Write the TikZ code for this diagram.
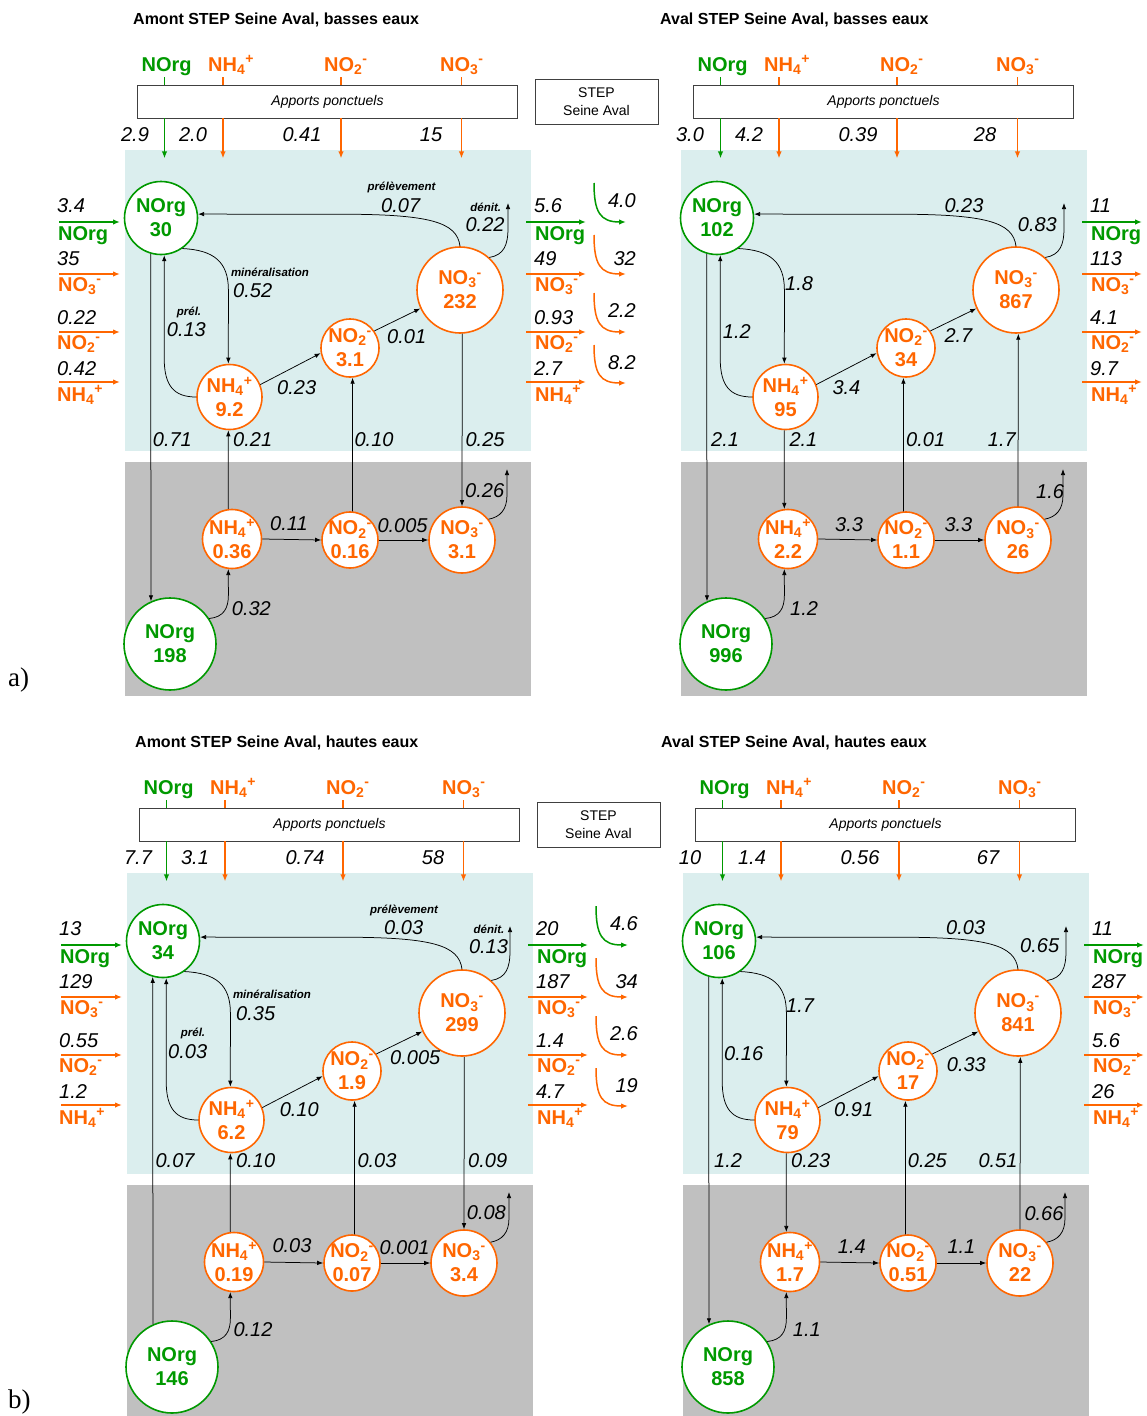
\documentclass[tikz,border=0pt]{standalone}
\usepackage{fontspec}
\setmainfont{Liberation Sans}
\newfontfamily\abcfont{Liberation Serif}
\usetikzlibrary{arrows.meta,calc}
\definecolor{vgreen}{RGB}{0,153,0}
\definecolor{vorange}{RGB}{255,102,0}
\definecolor{water}{RGB}{219,238,238}
\definecolor{sed}{RGB}{192,192,192}
\newcommand\chem[2]{\textsubscript{#1}\textsuperscript{#2}}
\newcommand\spNH{NH\chem{4}{+}}
\newcommand\spNOii{NO\chem{2}{-}}
\newcommand\spNOiii{NO\chem{3}{-}}
\newcounter{nn}
\tikzset{
  num/.style={font=\fontsize{20}{22}\selectfont\itshape, inner sep=0pt, anchor=base west},
  numc/.style={font=\fontsize{20}{22}\selectfont\itshape, inner sep=0pt, anchor=base},
  nume/.style={font=\fontsize{20}{22}\selectfont\itshape, inner sep=0pt, anchor=base east},
  lbl/.style={font=\fontsize{11.5}{13}\selectfont\bfseries\itshape, inner sep=0pt, anchor=base},
  gsp/.style={font=\fontsize{20}{22}\selectfont\bfseries, text=vgreen, inner sep=0pt, anchor=base west},
  osp/.style={font=\fontsize{20}{22}\selectfont\bfseries, text=vorange, inner sep=0pt, anchor=base west},
  poolc/.style={circle, line width=1.6pt, fill=white, inner sep=0pt},
  pooltxt/.style={font=\fontsize{20}{24}\selectfont\bfseries, align=center, inner sep=0pt},
  flow/.style={draw=black, line width=0.75pt, -{Latex[length=6pt,width=4.5pt]}},
  gflow/.style={draw=vgreen, line width=1.5pt, -{Latex[length=7pt,width=5.5pt]}},
  oflow/.style={draw=vorange, line width=1.5pt, -{Latex[length=7pt,width=5.5pt]}},
  gline/.style={draw=vgreen, line width=1.5pt},
  oline/.style={draw=vorange, line width=1.5pt},
  appbox/.style={draw=black!75, line width=0.8pt, fill=white, minimum width=380pt, minimum height=33pt, inner sep=0pt, font=\fontsize{14}{16}\selectfont\itshape},
  stepbox/.style={draw=black!75, line width=0.8pt, fill=white, minimum width=123pt, minimum height=45pt, inner sep=0pt, align=center, font=\fontsize{14}{17.5}\selectfont},
  ptitle/.style={font=\fontsize{16}{18}\selectfont\bfseries, inner sep=0pt, anchor=base west},
}
\newcommand\nmW[3]{\stepcounter{nn}\edef\nmname{n\arabic{nn}}\node[num] (\nmname) at (#1,#2) {#3};}
\newcommand\nmC[3]{\stepcounter{nn}\edef\nmname{n\arabic{nn}}\node[numc] (\nmname) at (#1,#2) {#3};}
\newcommand\nmE[3]{\stepcounter{nn}\edef\nmname{n\arabic{nn}}\node[nume] (\nmname) at (#1,#2) {#3};}
\newcommand\lbC[3]{\stepcounter{nn}\edef\nmname{n\arabic{nn}}\node[lbl] (\nmname) at (#1,#2) {#3};}
\newcommand\pool[5]{%
  \node[poolc, draw=#4, minimum size=#3] (#1) at #2 {};
  \node[pooltxt, text=#4] (#1t) at (#1.center) {#5};}
\newcommand\pools[9]{%
  \pool{#1wnorg}{(161,218)}{73pt}{vgreen}{NOrg\\#2}%
  \pool{#1wnh4}{(229.5,397)}{65pt}{vorange}{\spNH\\#3}%
  \pool{#1wno2}{(350,348)}{58pt}{vorange}{\spNOii\\#4}%
  \pool{#1wno3}{(460,290)}{86pt}{vorange}{\spNOiii\\#5}%
  \pool{#1snh4}{(232,539)}{59pt}{vorange}{\spNH\\#6}%
  \pool{#1sno2}{(350,540)}{56pt}{vorange}{\spNOii\\#7}%
  \pool{#1sno3}{(462,540)}{66pt}{vorange}{\spNOiii\\#8}%
  \pool{#1snorg}{(170,644)}{92pt}{vgreen}{NOrg\\#9}%
}
\newcommand\panelbase[1]{%
  \fill[water] (125,150) rectangle (531,451);
  \fill[sed] (125,462) rectangle (531,696);
  \node[appbox] (#1app) at (327.5,101.5) {Apports ponctuels};
  \node[gsp] (#1tA) at (141.5,71.5) {NOrg};
  \node[osp] (#1tB) at (208,71.5) {\spNH};
  \node[osp] (#1tC) at (324,71.5) {\spNOii};
  \node[osp] (#1tD) at (440,71.5) {\spNOiii};
  \coordinate (#1xA) at (164.5,0);
  \coordinate (#1xB) at (223,0);
  \coordinate (#1xC) at (341,0);
  \coordinate (#1xD) at (461.5,0);
  \draw[gline] (#1app.north -| #1xA) -- ++(0,-8);
  \draw[oline] (#1app.north -| #1xB) -- ++(0,-8);
  \draw[oline] (#1app.north -| #1xC) -- ++(0,-8);
  \draw[oline] (#1app.north -| #1xD) -- ++(0,-8);
  \draw[gflow] (#1app.south -| #1xA) -- ++(0,40);
  \draw[oflow] (#1app.south -| #1xB) -- ++(0,40);
  \draw[oflow] (#1app.south -| #1xC) -- ++(0,40);
  \draw[oflow] (#1app.south -| #1xD) -- ++(0,40);
  \draw[gflow] (526,222) -- (586,222);
  \draw[oflow] (526,274) -- (586,274);
  \draw[oflow] (526,332) -- (586,332);
  \draw[oflow] (526,382) -- (586,382);
  \node[gsp] (#1oA) at (535,240) {NOrg};
  \node[osp] (#1oB) at (535,291) {\spNOiii};
  \node[osp] (#1oC) at (535,349.5) {\spNOii};
  \node[osp] (#1oD) at (535,401) {\spNH};
}
\newcommand\outnums[4]{\nmW{534}{212}{#1}\nmW{534}{265}{#2}\nmW{534}{324}{#3}\nmW{534}{375.5}{#4}}
\newcommand\topnums[8]{\nmC{#1}{141.5}{#2}\nmC{#3}{141.5}{#4}\nmC{#5}{141.5}{#6}\nmC{#7}{141.5}{#8}}
\newcommand\leftinputs[5]{%
  \draw[gflow] (59,222) -- (120,222);
  \draw[oflow] (59,274) -- (120,274);
  \draw[oflow] (59,332) -- (120,332);
  \draw[oflow] (59,382) -- (120,382);
  \node[gsp] (#1iA) at (58,240) {NOrg};
  \node[osp] (#1iB) at (58,291) {\spNOiii};
  \node[osp] (#1iC) at (57,349.5) {\spNOii};
  \node[osp] (#1iD) at (57,401) {\spNH};
  \nmW{57}{212}{#2}\nmW{57}{265}{#3}\nmW{57}{324}{#4}\nmW{57}{375.5}{#5}
}
\newcommand\hooks[4]{%
  \draw[gflow] (594,183) .. controls (594,212) and (600,222) .. (626,222);
  \draw[oflow] (594,235) .. controls (594,264) and (600,274) .. (626,274);
  \draw[oflow] (594,293) .. controls (594,322) and (600,332) .. (626,332);
  \draw[oflow] (594,345) .. controls (594,374) and (600,383) .. (626,383);
  \nmE{636}{207}{#1}\nmE{636}{265.3}{#2}\nmE{636}{317}{#3}\nmE{636}{369.5}{#4}
}
\newcommand\links[1]{%
  \coordinate (#1dn) at (508,203);
  \coordinate (#1su) at (507,469);
  \draw[flow] (#1wno3.north) .. controls (457,222) and (430,214.2) .. (340,214.2) -- (#1wnorg.6);
  \draw[flow] (#1wno3.48) .. controls (504,255) and (508,245) .. (508,228) -- (#1dn);
  \draw[flow] (#1wnorg.-55) .. controls (214,250) and (228.4,262) .. (228.4,290) -- (#1wnh4.92);
  \draw[flow] (#1wnh4.west) .. controls (174,397) and (164.2,386) .. (164.2,358) -- (#1wnorg.-85);
  \draw[flow] (#1wnh4.22) -- (#1wno2.190);
  \draw[flow] (#1wno2.35) -- (#1wno3.205);
  \draw[flow] (#1snh4.east) -- (#1sno2.west);
  \draw[flow] (#1sno2.east) -- (#1sno3.west);
  \draw[flow] (#1sno3.38) .. controls (500,517) and (507,510) .. (507,495) -- (#1su);
  \draw[flow] (#1snorg.33) .. controls (224,617) and (228.4,608) .. (228.4,595) -- (#1snh4.-97);
}
\begin{document}
\begin{tikzpicture}[x=1pt,y=-1pt]
\fill[white] (0,0) rectangle (1146,1416);
\useasboundingbox (0,0) rectangle (1146,1416);

% ---------- titles and panel letters
\node[ptitle] (t1) at (133,24) {Amont STEP Seine Aval, basses eaux};
\node[ptitle] (t2) at (660,24) {Aval STEP Seine Aval, basses eaux};
\node[ptitle] (t3) at (135,747) {Amont STEP Seine Aval, hautes eaux};
\node[ptitle] (t4) at (661,747) {Aval STEP Seine Aval, hautes eaux};
\node[font=\abcfont\fontsize{27}{30}\selectfont, inner sep=0pt, anchor=base west] (la) at (8,686.5) {a)};
\node[font=\abcfont\fontsize{27}{30}\selectfont, inner sep=0pt, anchor=base west] (lb) at (8,1408) {b)};

% ---------- a) left : Amont, basses eaux
\begin{scope}
\panelbase{aL}
\node[stepbox] (aLstep) at (596.5,101.5) {STEP\\Seine Aval};
\pools{aL}{30}{9.2}{3.1}{232}{0.36}{0.16}{3.1}{198}
\links{aL}
\draw[flow] (aLwnorg.-106) -- (aLsnorg.114);
\draw[flow] (aLsnh4.97) -- (aLwnh4.-92);
\draw[flow] (aLsno2.85) -- (aLwno2.-85);
\draw[flow] (aLwno3.-87) -- (aLsno3.north);
\topnums{135}{2.9}{193}{2.0}{302}{0.41}{431}{15}
\leftinputs{aL}{3.4}{35}{0.22}{0.42}
\outnums{5.6}{49}{0.93}{2.7}
\hooks{4.0}{32}{2.2}{8.2}
\lbC{401.5}{190.5}{prélèvement}
\nmW{381}{212.3}{0.07}
\lbC{485.7}{211}{dénit.}
\nmW{465.4}{231.7}{0.22}
\lbC{270}{276}{minéralisation}
\nmW{233}{297.7}{0.52}
\lbC{189}{315}{prél.}
\nmW{166.7}{336}{0.13}
\nmW{277}{394.3}{0.23}
\nmW{387}{343.3}{0.01}
\nmW{152.7}{446.5}{0.71}
\nmW{233}{446.5}{0.21}
\nmW{354.4}{446.5}{0.10}
\nmW{465.4}{446.5}{0.25}
\nmW{465}{497.3}{0.26}
\nmW{270}{530.7}{0.11}
\nmW{377.3}{532.3}{0.005}
\nmW{231.7}{615}{0.32}
\end{scope}

% ---------- a) right : Aval, basses eaux
\begin{scope}[shift={(556,0)}]
\panelbase{aR}
\pools{aR}{102}{95}{34}{867}{2.2}{1.1}{26}{996}
\links{aR}
\draw[flow] (aRwnorg.-106) -- (aRsnorg.114);
\draw[flow] (aRwnh4.-92) -- (aRsnh4.97);
\draw[flow] (aRsno2.95) -- (aRwno2.-95);
\draw[flow] (aRsno3.north) -- (aRwno3.-87);
\topnums{134}{3.0}{193}{4.2}{302}{0.39}{429}{28}
\outnums{11}{113}{4.1}{9.7}
\nmW{388.3}{212.3}{0.23}
\nmW{461.7}{231}{0.83}
\nmW{229}{290.7}{1.8}
\nmW{166.7}{338.3}{1.2}
\nmW{276.3}{394.3}{3.4}
\nmW{388.3}{342.7}{2.7}
\nmW{155}{446}{2.1}
\nmW{233.3}{446}{2.1}
\nmW{350}{446}{0.01}
\nmW{431.7}{446}{1.7}
\nmW{279}{531}{3.3}
\nmW{388.3}{531}{3.3}
\nmW{480}{498.3}{1.6}
\nmW{234}{615.7}{1.2}
\end{scope}

% ---------- b) left : Amont, hautes eaux
\begin{scope}[shift={(2,723)}]
\panelbase{bL}
\node[stepbox] (bLstep) at (596.5,101.5) {STEP\\Seine Aval};
\pools{bL}{34}{6.2}{1.9}{299}{0.19}{0.07}{3.4}{146}
\links{bL}
\draw[flow] (bLsnorg.114) -- (bLwnorg.-106);
\draw[flow] (bLsnh4.97) -- (bLwnh4.-92);
\draw[flow] (bLsno2.85) -- (bLwno2.-85);
\draw[flow] (bLwno3.-87) -- (bLsno3.north);
\topnums{136}{7.7}{193}{3.1}{303}{0.74}{431}{58}
\leftinputs{bL}{13}{129}{0.55}{1.2}
\outnums{20}{187}{1.4}{4.7}
\hooks{4.6}{34}{2.6}{19}
\lbC{402}{190.3}{prélèvement}
\nmW{382}{211.3}{0.03}
\lbC{487}{210.3}{dénit.}
\nmW{466.8}{230.3}{0.13}
\lbC{270}{275.3}{minéralisation}
\nmW{234}{297}{0.35}
\lbC{191}{313.7}{prél.}
\nmW{166}{335.3}{0.03}
\nmW{277.6}{393}{0.10}
\nmW{388}{341.3}{0.005}
\nmW{153.4}{444.7}{0.07}
\nmW{234}{444.7}{0.10}
\nmW{355.3}{444.7}{0.03}
\nmW{466}{444.7}{0.09}
\nmW{464.7}{496.3}{0.08}
\nmW{270.3}{529.7}{0.03}
\nmW{377.3}{531.3}{0.001}
\nmW{231.3}{613}{0.12}
\end{scope}

% ---------- b) right : Aval, hautes eaux
\begin{scope}[shift={(558,723)}]
\panelbase{bR}
\pools{bR}{106}{79}{17}{841}{1.7}{0.51}{22}{858}
\links{bR}
\draw[flow] (bRwnorg.-106) -- (bRsnorg.114);
\draw[flow] (bRwnh4.-92) -- (bRsnh4.97);
\draw[flow] (bRsno2.95) -- (bRwno2.-95);
\draw[flow] (bRsno3.north) -- (bRwno3.-87);
\topnums{132}{10}{194}{1.4}{302}{0.56}{430}{67}
\outnums{11}{287}{5.6}{26}
\nmW{388}{211.3}{0.03}
\nmW{462}{229.7}{0.65}
\nmW{228}{289.7}{1.7}
\nmW{166}{337}{0.16}
\nmW{276}{393.7}{0.91}
\nmW{388.7}{348}{0.33}
\nmW{156}{444.7}{1.2}
\nmW{233}{444.7}{0.23}
\nmW{349.7}{444.7}{0.25}
\nmW{420.3}{444.7}{0.51}
\nmW{279.7}{530.3}{1.4}
\nmW{389.3}{530.3}{1.1}
\nmW{466.3}{497}{0.66}
\nmW{234.7}{613.7}{1.1}
\end{scope}
\end{tikzpicture}
\end{document}
